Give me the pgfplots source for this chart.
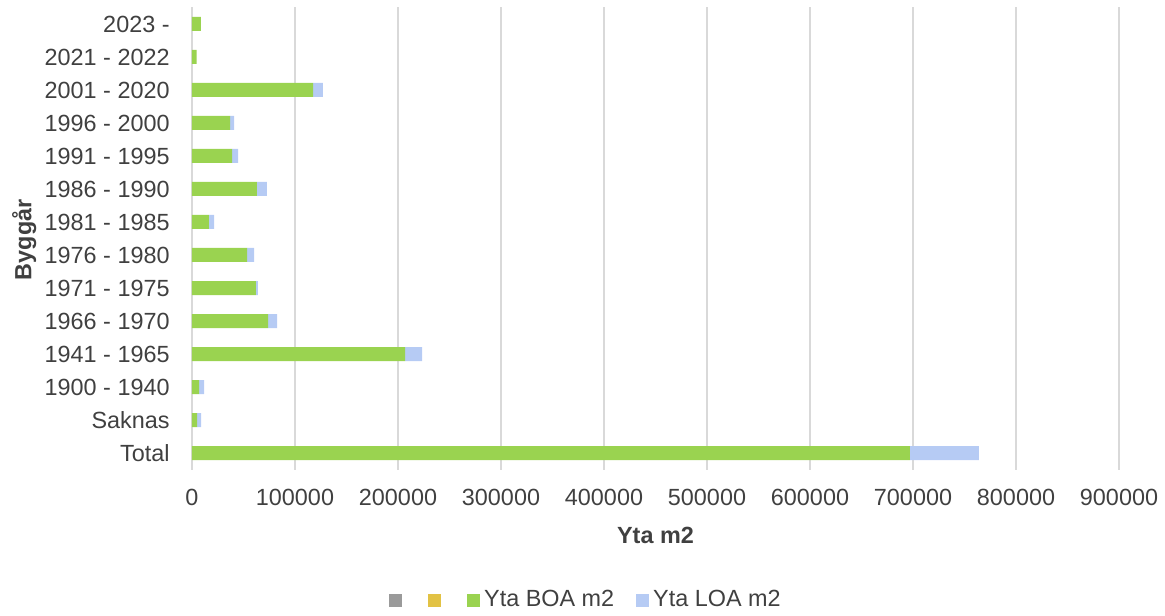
\documentclass[border=0pt]{standalone}
\usepackage{fontspec}
\setmainfont{Liberation Sans}
\usepackage{pgfplots}
\usepackage{pgfplotstable}
\pgfplotsset{compat=1.18}

\definecolor{txt}{HTML}{404040}
\definecolor{gridc}{HTML}{D9D9D9}
\definecolor{boaMid}{HTML}{9AD350}
\definecolor{loaMid}{HTML}{B6CBF4}
\definecolor{grayLeg}{HTML}{9A9A9A}
\definecolor{yelLeg}{HTML}{E2C244}

% Floor area per construction period (0 = Total ... 13 = 2023 -)
\pgfplotstableread{
pos boa loa
0  697000 67000
1  5000   3800
2  7000   4800
3  207000 16500
4  74000  8700
5  62000  2000
6  53500  6800
7  16500  5000
8  63000  9800
9  39000  5800
10 37000  4000
11 117500 9500
12 4500   0
13 8500   0
}\areadata

\begin{document}
\begin{tikzpicture}
\begin{axis}[
  scale only axis,
  width=463.5pt, height=231pt,
  xbar stacked,
  bar width=7pt,
  xmin=0, xmax=900000,
  ymin=-0.5, ymax=13.5,
  xtick={0,100000,...,900000},
  ytick={0,...,13},
  yticklabels={Total,Saknas,1900 - 1940,1941 - 1965,1966 - 1970,1971 - 1975,1976 - 1980,1981 - 1985,1986 - 1990,1991 - 1995,1996 - 2000,2001 - 2020,2021 - 2022,2023 -\ },
  scaled x ticks=false,
  /pgf/number format/.cd, fixed, 1000 sep={}, assume math mode=true,
  /pgfplots/.cd,
  xmajorgrids,
  major grid style={draw=gridc, line width=0.6pt},
  axis line style={draw=none},
  major tick length=0pt,
  tick label style={font=\fontsize{11.7}{13.5}\selectfont, text=txt},
  xticklabel style={anchor=center, yshift=-14pt},
  yticklabel style={anchor=east, inner sep=0pt, xshift=-11pt},
  xlabel={Yta m2},
  ylabel={Byggår},
  label style={font=\fontsize{11.7}{13.5}\selectfont\bfseries, text=txt},
  xlabel style={at={(axis description cs:0.5,0)}, anchor=center, yshift=-33pt},
  ylabel style={at={(axis description cs:-0.181,0.497)}, anchor=center},
  legend columns=4,
  legend style={at={(rel axis cs:0.426,0)}, anchor=center, yshift=-65.3pt,
    draw=none, fill=none, font=\fontsize{11.7}{13.5}\selectfont, text=txt,
    /tikz/every even column/.append style={column sep=9pt}},
  legend cell align=left,
  legend image code/.code={\fill[#1] (0pt,-3.2pt) rectangle (6.5pt,3.3pt);},
]
\addlegendimage{fill=grayLeg, draw=none}
\addlegendentry{}
\addlegendimage{fill=yelLeg, draw=none}
\addlegendentry{}
\addplot[draw=none, fill=boaMid]
  table[x=boa, y=pos] {\areadata};
\addlegendentry{Yta BOA m2}
\addplot[draw=none, fill=loaMid]
  table[x=loa, y=pos] {\areadata};
\addlegendentry{Yta LOA m2}
\end{axis}
\pgfresetboundingbox
\path (current axis.south west) ++(-96pt,-72.75pt) rectangle ++(582.5pt,307.5pt);
\end{tikzpicture}
\end{document}
